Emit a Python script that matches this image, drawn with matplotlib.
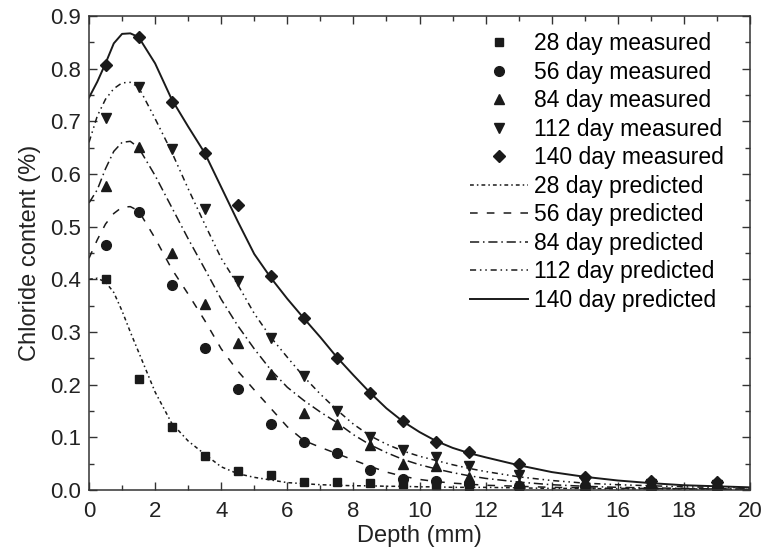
import matplotlib
matplotlib.use("Agg")
import matplotlib.pyplot as plt
from matplotlib.ticker import MultipleLocator

plt.rcParams['font.family'] = ['Liberation Sans', 'DejaVu Sans']

# measured depths (mm)
depth_meas = [0.5, 1.5, 2.5, 3.5, 4.5, 5.5, 6.5, 7.5, 8.5, 9.5, 10.5, 11.5, 13, 15, 17, 19]

meas_28 = [0.40, 0.21, 0.12, 0.065, 0.036, 0.028, 0.015, 0.015, 0.013, 0.012, 0.010, 0.008, 0.006, 0.005, 0.004, 0.004]
meas_56 = [0.465, 0.527, 0.389, 0.269, 0.191, 0.125, 0.091, 0.070, 0.038, 0.020, 0.017, 0.012, 0.008, 0.007, 0.006, 0.005]
meas_84 = [0.577, 0.651, 0.450, 0.353, 0.279, 0.220, 0.146, 0.125, 0.085, 0.050, 0.045, 0.025, 0.012, 0.010, 0.008, 0.008]
meas_112 = [0.706, 0.765, 0.647, 0.533, 0.396, 0.289, 0.216, 0.150, 0.100, 0.075, 0.063, 0.045, 0.028, 0.015, 0.012, 0.010]
meas_140 = [0.806, 0.861, 0.737, 0.640, 0.541, 0.406, 0.326, 0.250, 0.184, 0.131, 0.091, 0.072, 0.050, 0.024, 0.018, 0.016]

# predicted curves
depth_pred = [0, 0.25, 0.5, 0.75, 1, 1.25, 1.5, 2, 2.5, 3, 3.5, 4, 4.5, 5, 5.5, 6, 6.5, 7, 7.5, 8,
              8.5, 9, 9.5, 10, 10.5, 11, 11.5, 12, 13, 14, 15, 16, 17, 18, 19, 20]

pred_28 = [0.40, 0.402, 0.395, 0.375, 0.34, 0.30, 0.262, 0.186, 0.127, 0.093, 0.068, 0.044, 0.031, 0.024, 0.019, 0.014,
           0.012, 0.010, 0.009, 0.008, 0.008, 0.007, 0.007, 0.006, 0.006, 0.005, 0.005, 0.005, 0.004, 0.003,
           0.003, 0.002, 0.002, 0.002, 0.001, 0.001]
pred_56 = [0.44, 0.475, 0.505, 0.525, 0.537, 0.538, 0.53, 0.478, 0.42, 0.372, 0.322, 0.268, 0.226, 0.19, 0.155, 0.12,
           0.094, 0.081, 0.069, 0.057, 0.045, 0.034, 0.026, 0.020, 0.016, 0.013, 0.011, 0.009, 0.007, 0.005,
           0.004, 0.003, 0.003, 0.002, 0.002, 0.001]
pred_84 = [0.545, 0.57, 0.61, 0.643, 0.66, 0.662, 0.65, 0.597, 0.537, 0.477, 0.42, 0.362, 0.312, 0.268, 0.228, 0.195,
           0.17, 0.148, 0.128, 0.105, 0.086, 0.071, 0.058, 0.048, 0.040, 0.033, 0.027, 0.022, 0.015, 0.010,
           0.007, 0.005, 0.004, 0.003, 0.002, 0.002]
pred_112 = [0.66, 0.71, 0.742, 0.762, 0.773, 0.774, 0.765, 0.705, 0.642, 0.572, 0.505, 0.44, 0.39, 0.335, 0.29, 0.252,
            0.215, 0.182, 0.152, 0.125, 0.103, 0.087, 0.074, 0.064, 0.056, 0.048, 0.041, 0.035, 0.025, 0.018,
            0.013, 0.010, 0.008, 0.006, 0.005, 0.004]
pred_140 = [0.745, 0.775, 0.81, 0.848, 0.866, 0.867, 0.86, 0.81, 0.742, 0.69, 0.64, 0.575, 0.51, 0.448, 0.403, 0.363,
            0.326, 0.29, 0.252, 0.218, 0.185, 0.155, 0.13, 0.11, 0.093, 0.08, 0.07, 0.062, 0.047, 0.034,
            0.025, 0.018, 0.013, 0.009, 0.007, 0.005]

ink = '#1a1a1a'
fs = 16

fig = plt.figure(figsize=(7.62, 5.49), dpi=100)
ax = fig.add_axes([0.1168, 0.1075, 0.8675, 0.8634])

ms = 7
ax.plot(depth_meas, meas_28, 's', color=ink, ms=ms * 0.9, label='28 day measured')
ax.plot(depth_meas, meas_56, 'o', color=ink, ms=ms, label='56 day measured')
ax.plot(depth_meas, meas_84, '^', color=ink, ms=ms, label='84 day measured')
ax.plot(depth_meas, meas_112, 'v', color=ink, ms=ms, label='112 day measured')
ax.plot(depth_meas, meas_140, 'D', color=ink, ms=ms * 0.9, label='140 day measured')

lw = 1.1
ax.plot(depth_pred, pred_28, color=ink, lw=lw, dashes=(2.5, 2, 1, 2), label='28 day predicted')
ax.plot(depth_pred, pred_56, color=ink, lw=lw, dashes=(5, 6), label='56 day predicted')
ax.plot(depth_pred, pred_84, color=ink, lw=lw, dashes=(6, 2.5, 1, 2.5), label='84 day predicted')
ax.plot(depth_pred, pred_112, color=ink, lw=lw, dashes=(4, 2.5, 1, 2.5, 1, 2.5), label='112 day predicted')
ax.plot(depth_pred, pred_140, color=ink, lw=1.4, label='140 day predicted')

ax.set_xlim(0, 20)
ax.set_ylim(0, 0.9)
ax.xaxis.set_major_locator(MultipleLocator(2))
ax.xaxis.set_minor_locator(MultipleLocator(1))
ax.yaxis.set_major_locator(MultipleLocator(0.1))
ax.yaxis.set_minor_locator(MultipleLocator(0.05))
ax.yaxis.set_major_formatter(plt.FormatStrFormatter('%.1f'))
ax.tick_params(which='both', direction='in', top=True, right=True, colors='#333333',
               labelsize=fs, labelcolor='#222222', width=1.0)
ax.tick_params(which='major', length=6)
ax.tick_params(which='minor', length=3.5)
ax.tick_params(axis='x', which='major', pad=8)
ax.tick_params(axis='y', which='major', pad=6)
for s in ax.spines.values():
    s.set_linewidth(1.1)
    s.set_color('#333333')

ax.set_xlabel('Depth (mm)', fontsize=17, color='#222222', labelpad=2)
ax.set_ylabel('Chloride content (%)', fontsize=17, color='#222222', labelpad=6)

ax.legend(loc='upper left', frameon=False, fontsize=16.5, handlelength=2.5,
          handletextpad=0.27, labelspacing=0.24, borderaxespad=0,
          bbox_to_anchor=(0.563, 0.985))

fig.savefig('out.png', dpi=100)
